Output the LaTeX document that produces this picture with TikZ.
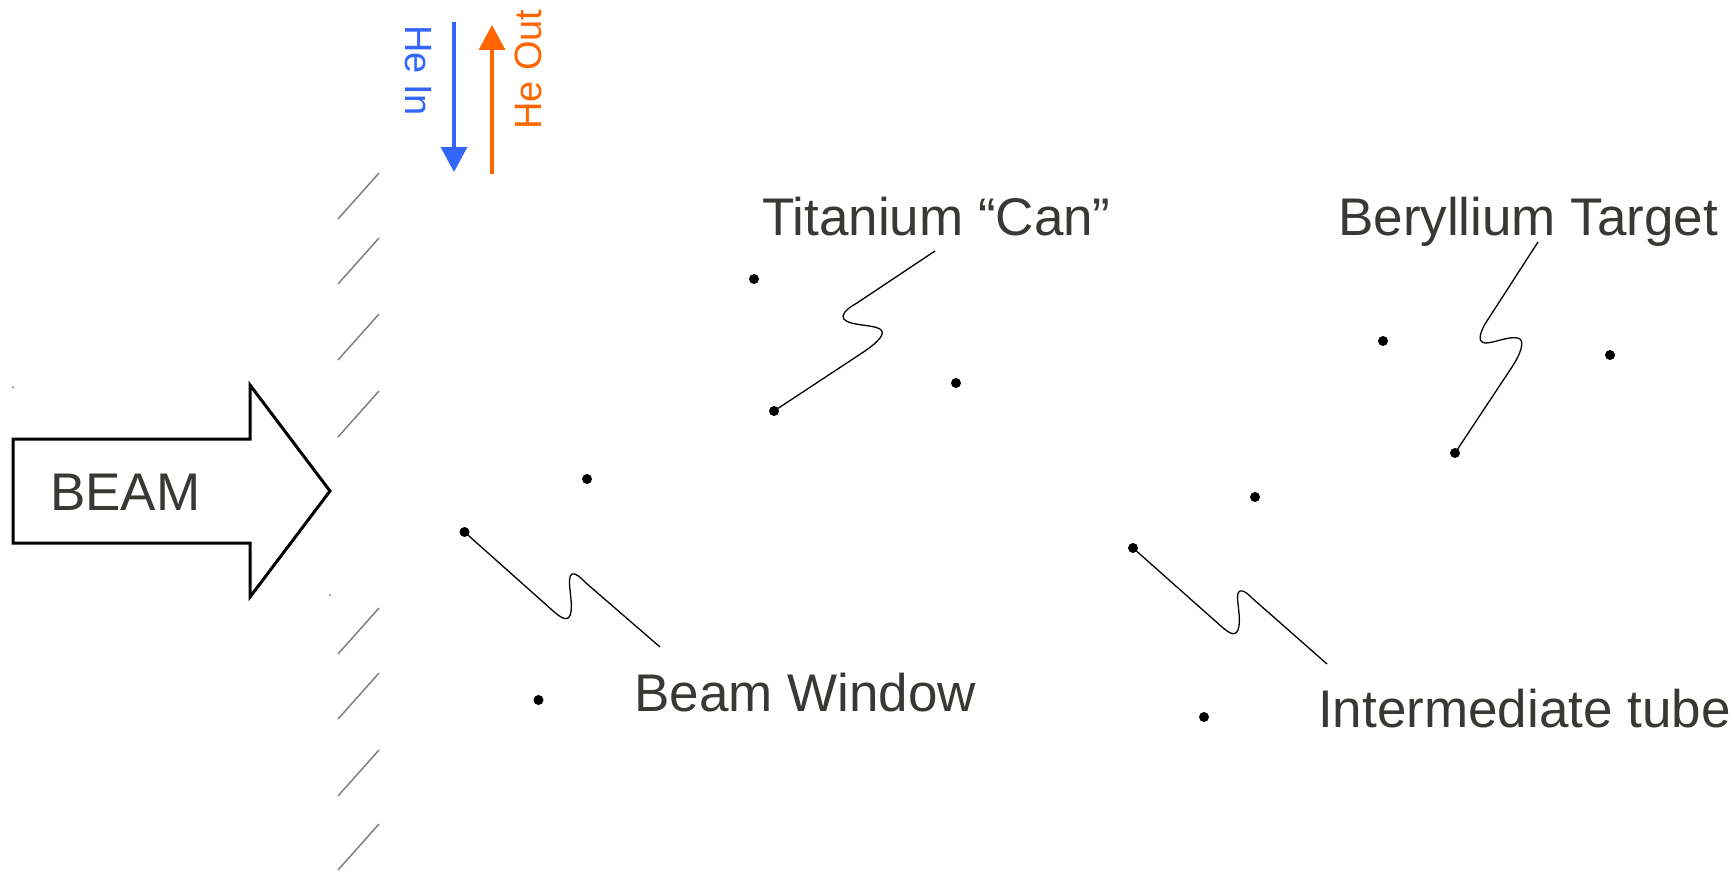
\documentclass[tikz,border=0pt]{standalone}
\usepackage{fontspec}
\setmainfont{Liberation Sans}
\usetikzlibrary{arrows.meta}
\definecolor{txt}{HTML}{383834}
\definecolor{hatchgray}{HTML}{808080}
\definecolor{heblue}{HTML}{3366FF}
\definecolor{heorange}{HTML}{FF6600}
\begin{document}
\begin{tikzpicture}[x=1pt,y=-1pt,
  dot/.style={circle,fill=black,inner sep=0pt,minimum size=10pt},
  tiny/.style={circle,fill=black,inner sep=0pt,minimum size=1.5pt},
  lead/.style={draw=black,line width=1.3pt},
  lbl/.style={inner sep=0pt,anchor=base west,text=txt,font=\fontsize{53}{62}\selectfont},
  helbl/.style={inner sep=0pt,anchor=base west,font=\fontsize{38}{44}\selectfont},
  hatch/.style={draw=hatchgray,line width=1.5pt},
  heflow/.style={line width=3.3pt,-{Triangle[width=26pt,length=25pt]}},
  beamarrow/.style={draw=black,line width=3pt,fill=white,line join=miter}]
\useasboundingbox (0,0) rectangle (1734,872);

% BEAM arrow
\draw[beamarrow] (13,439) -- (250,439) -- (250,385) -- (330,491) -- (250,597) -- (250,543) -- (13,543) -- cycle;
\node[lbl] (beam) at (50,510) {BEAM};
\node[tiny] (t1) at (13,387) {};
\node[tiny] (t2) at (330,595) {};

% hatching (wall)
\foreach \y/\n in {219/a,284/b,360/c,437/d,654/e,719/f,796/g,870/h}{
  \coordinate (h\n1) at (338,\y);
  \coordinate (h\n2) at (379,\y-46);
  \draw[hatch] (h\n1) -- (h\n2);
}

% He flow arrows
\coordinate (hein1) at (454,22);
\coordinate (hein2) at (454,172);
\draw[heflow,draw=heblue,color=heblue] (hein1) -- (hein2);
\coordinate (heout1) at (492,174);
\coordinate (heout2) at (492,25);
\draw[heflow,draw=heorange,color=heorange] (heout1) -- (heout2);
\node[helbl,text=heblue,rotate=-90] (heinlbl) at (405,25) {He In};
\node[helbl,text=heorange,rotate=90] (heoutlbl) at (541,130) {He Out};

% labels
\node[lbl] (ti) at (762,235) {Titanium “Can”};
\node[lbl] (be) at (1338,235) {Beryllium Target};
\node[lbl] (bw) at (634,711) {Beam Window};
\node[lbl] (it) at (1318,727) {Intermediate tube};

% dots
\node[dot] (d1) at (754,279) {};
\node[dot] (d2) at (956,383) {};
\node[dot] (tiS) at (774,411) {};
\node[dot] (d3) at (587,479) {};
\node[dot] (bwS) at (464.5,532) {};
\node[dot] (d4) at (538.5,700) {};
\node[dot] (d5) at (1383,341) {};
\node[dot] (d6) at (1610,355) {};
\node[dot] (beS) at (1455,453) {};
\node[dot] (d7) at (1255,497) {};
\node[dot] (itS) at (1133,548) {};
\node[dot] (d8) at (1204,717) {};

% leader ends
\coordinate (tiE) at (935,251);
\coordinate (beE) at (1538,242);
\coordinate (bwE) at (660,647);
\coordinate (itE) at (1327,664);

% leaders
\draw[lead] (tiS.center) -- (862,353) .. controls (880,341) and (886,333) .. (880,329)
  .. controls (872,324) and (842,326) .. (843,316) .. controls (844,311) and (850,307) .. (857,303) -- (tiE);
\draw[lead] (beS.center) -- (1512,367) .. controls (1520,355) and (1526,340) .. (1518,338)
  .. controls (1508,336) and (1495,343) .. (1485,343) .. controls (1478,342) and (1479,335) .. (1485,324) -- (beE);
\draw[lead] (bwS.center) -- (552,610) .. controls (562,619) and (569,623) .. (571,612)
  .. controls (573,600) and (566,577) .. (572,574) .. controls (576,573) and (580,577) .. (586,583) -- (bwE);
\draw[lead] (itS.center) -- (1222,627) .. controls (1230,634) and (1237,638) .. (1239,626)
  .. controls (1241,612) and (1234,593) .. (1240,591) .. controls (1244,590) and (1248,594) .. (1252,598) -- (itE);
\end{tikzpicture}
\end{document}
